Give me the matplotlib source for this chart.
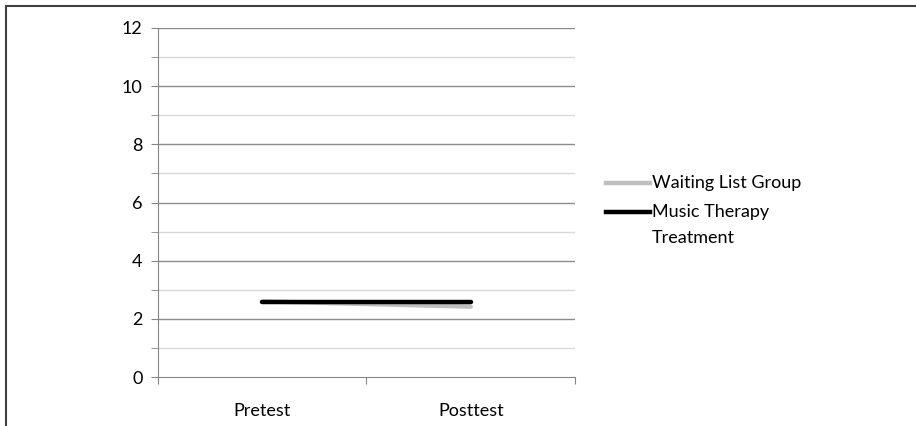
import matplotlib
matplotlib.use("Agg")
import matplotlib.pyplot as plt
from matplotlib.lines import Line2D

# data
categories = ["Pretest", "Posttest"]
waiting_list = [2.6, 2.42]
music_therapy = [2.57, 2.57]
yticks = [0, 2, 4, 6, 8, 10, 12]
series_names = ["Waiting List Group", "Music Therapy\nTreatment"]
series_colors = ["#bfbfbf", "black"]

plt.rcParams['font.family'] = ['Lato', 'DejaVu Sans']
FS = 13

fig = plt.figure(figsize=(9.16, 4.26), dpi=100)
ax = fig.add_axes([158 / 916, 1 - 377 / 426, 417 / 916, 349 / 426])

x = [0.5, 1.5]
ax.plot(x, waiting_list, color=series_colors[0], lw=3.2, solid_capstyle="round")
ax.plot(x, music_therapy, color=series_colors[1], lw=3.2, solid_capstyle="round")

ax.set_xlim(0, 2)
ax.set_ylim(0, 12)
ax.set_yticks(yticks)
ax.set_yticks(range(1, 12, 2), minor=True)
ax.set_xticks([0, 1, 2])
ax.set_xticks(x, minor=True)
ax.set_xticklabels(["", "", ""])
ax.set_xticklabels(categories, minor=True)
ax.tick_params(axis="x", which="minor", length=0, pad=19, labelsize=FS)
ax.tick_params(axis="x", which="major", length=5, color="#868686", direction="out")
ax.tick_params(axis="y", which="both", length=5, color="#868686", direction="out",
               labelsize=FS, pad=6)

for v in yticks[1:]:
    ax.axhline(v, color="#8c8c8c", lw=1.0, zorder=0)
for v in range(1, 12, 2):
    ax.axhline(v, color="#d9d9d9", lw=1.0, zorder=0)

for s in ["top", "right"]:
    ax.spines[s].set_visible(False)
ax.spines["left"].set_color("#868686")
ax.spines["bottom"].set_color("#868686")

# legend drawn by hand so the handle sits on the first text line
W, H = 916.0, 426.0
for i, (name, col) in enumerate(zip(series_names, series_colors)):
    yy = 1 - (183 + 29 * i) / H
    fig.add_artist(Line2D([606 / W, 650 / W], [yy, yy], color=col, lw=3.2,
                          transform=fig.transFigure))
    fig.text(652 / W, yy + 8 / H, name, fontsize=FS, va="top", ha="left",
             linespacing=1.8)

# frame lines of the original picture (left and top only)
fig.add_artist(Line2D([6 / W, 6 / W], [0, 1 - 6 / H], color="#404040",
                      lw=1.5, transform=fig.transFigure))
fig.add_artist(Line2D([6 / W, 1], [1 - 6 / H, 1 - 6 / H], color="#404040",
                      lw=1.5, transform=fig.transFigure))

fig.savefig("out.png", dpi=100)
